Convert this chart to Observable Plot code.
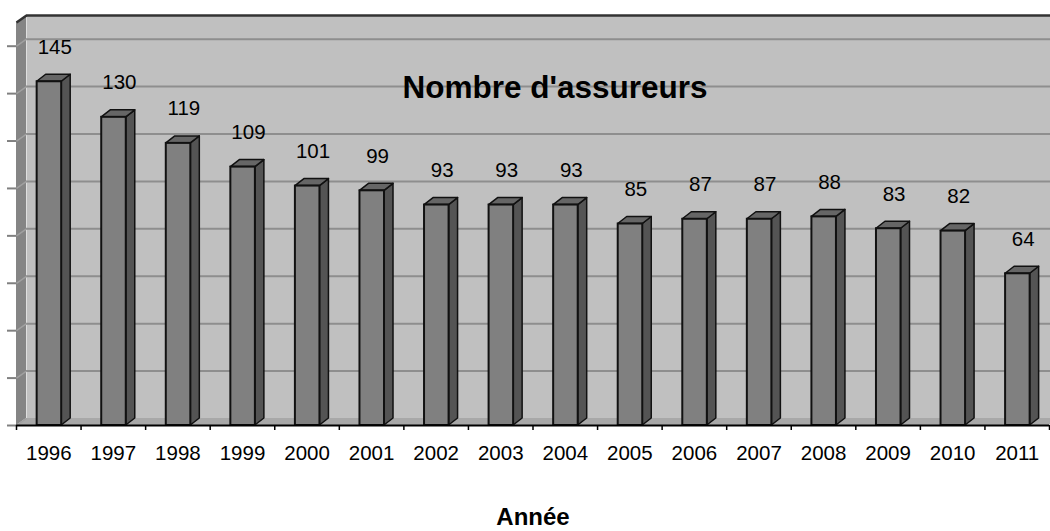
<!DOCTYPE html>
<html>
<head>
<meta charset="utf-8">
<script src="https://cdn.jsdelivr.net/npm/d3@7"></script>
<script src="https://cdn.jsdelivr.net/npm/@observablehq/plot@0.6"></script>
<style>
  html, body { margin: 0; padding: 0; background: #fff; overflow: hidden; }
  #chart svg { display: block; font-family: "Liberation Sans", Arial, sans-serif; }
</style>
</head>
<body>
<div id="chart"></div>
<script>
// ---- data ----
const years = ["1996","1997","1998","1999","2000","2001","2002","2003","2004","2005","2006","2007","2008","2009","2010","2011"];
const counts = [145,130,119,109,101,99,93,93,93,85,87,87,88,83,82,64];
const yTicks = [0,20,40,60,80,100,120,140,160];
const title = "Nombre d'assureurs";
const xTitle = "Année";

// ---- 3D look (style constants) ----
const W = 1050, H = 531;
const mL = 16, mR = 1, mT = 22, mB = 106;
const yMax = 170;
const pxPerX = (W - mL - mR) / years.length;
const pxPerY = (H - mT - mB) / yMax;
const depthPx = 9, wallDepthPx = 10, riseP = 7;
const BD = depthPx / pxPerX;      // bar depth in x units
const WD = wallDepthPx / pxPerX;  // wall depth in x units
const DY = riseP / pxPerY;        // depth rise in y units
const f1 = 0.32, f2 = 0.70;       // front-face extent within band

const bars = years.map((yr, i) => ({year: yr, i, v: counts[i], x1: i + f1, x2: i + f2}));
const sidePts = bars.flatMap(b => [
  {year: b.year, x: b.x2, y1: 0, y2: b.v},
  {year: b.year, x: b.x2 + BD, y1: DY, y2: b.v + DY}
]);
const topPts = bars.flatMap(b => [
  {year: b.year, y: b.v, x1: b.x1, x2: b.x2},
  {year: b.year, y: b.v + DY, x1: b.x1 + BD, x2: b.x2 + BD}
]);
const leftWall = [{x: 0, y1: 0, y2: yMax}, {x: WD, y1: DY, y2: yMax + DY}];
const floor = [{y: 0, x1: 0, x2: years.length}, {y: DY, x1: WD, x2: years.length + WD}];

const chart = Plot.plot({
  width: W, height: H,
  marginLeft: mL, marginRight: mR, marginTop: mT, marginBottom: mB,
  style: {background: "#fff", fontFamily: "Liberation Sans, Arial, sans-serif"},
  x: {type: "linear", domain: [0, years.length]},
  y: {domain: [0, yMax]},
  marks: [
    // back wall
    Plot.frame({fill: "#c0c0c0", dx: wallDepthPx, dy: -riseP}),
    // floor
    Plot.areaX(floor, {y: "y", x1: "x1", x2: "x2", fill: "#a8a8a8", curve: "linear"}),
    // back-wall gridlines
    Plot.ruleY(yTicks.slice(1), {dx: wallDepthPx, dy: -riseP, stroke: "#8e8e8e", strokeWidth: 2}),
    Plot.ruleY([yMax], {dx: wallDepthPx, dy: -riseP, stroke: "#333", strokeWidth: 2.5}),
    // left wall
    Plot.areaY(leftWall, {x: "x", y1: "y1", y2: "y2", fill: "#858585", curve: "linear"}),
    Plot.link(yTicks, {x1: 0, x2: WD, y1: d => d, y2: d => d + DY, stroke: "#a0a0a0", strokeWidth: 1.5}),
    Plot.link([yMax], {x1: 0, x2: WD, y1: d => d, y2: d => d + DY, stroke: "#333", strokeWidth: 2.5}),
    // y ticks (no labels)
    Plot.axisY({ticks: yTicks, tickFormat: () => "", tickSize: 9, stroke: "#808080", strokeWidth: 2}),
    // bars: side, top, front
    Plot.areaY(sidePts, {x: "x", y1: "y1", y2: "y2", z: "year", fill: "#545454", stroke: "#111", strokeWidth: 1.5, curve: "linear"}),
    Plot.areaX(topPts, {y: "y", x1: "x1", x2: "x2", z: "year", fill: "#666666", stroke: "#111", strokeWidth: 1.5, curve: "linear"}),
    Plot.rectY(bars, {x1: "x1", x2: "x2", y: "v", fill: "#808080", stroke: "#111", strokeWidth: 2}),
    // x axis line + ticks + labels
    Plot.ruleY([0], {stroke: "#000", strokeWidth: 2}),
    Plot.axisX({ticks: d3.range(years.length + 1), tickFormat: () => "", tickSize: 5, stroke: "#000", strokeWidth: 1.5}),
    Plot.axisX({ticks: years.map((_, i) => i + 0.5), tickFormat: d => years[Math.floor(d)], tickSize: 0, tickPadding: 20, fontSize: 20.5, fill: "#000", label: null}),
    // value labels
    Plot.text(bars, {x: d => d.i + 0.5, y: "v", text: d => String(d.v), dx: 6, dy: -28, lineAnchor: "bottom", fontSize: 20.5, fill: "#000"}),
    // title inside plot
    Plot.text([title], {frameAnchor: "top", dx: 22, dy: 75, lineAnchor: "bottom", fontSize: 31.5, fontWeight: "bold", fill: "#000"}),
    // x title
    Plot.text([xTitle], {frameAnchor: "bottom", dy: 99, lineAnchor: "bottom", fontSize: 24, fontWeight: "bold", fill: "#000"})
  ]
});
document.getElementById("chart").appendChild(chart);
</script>
</body>
</html>
